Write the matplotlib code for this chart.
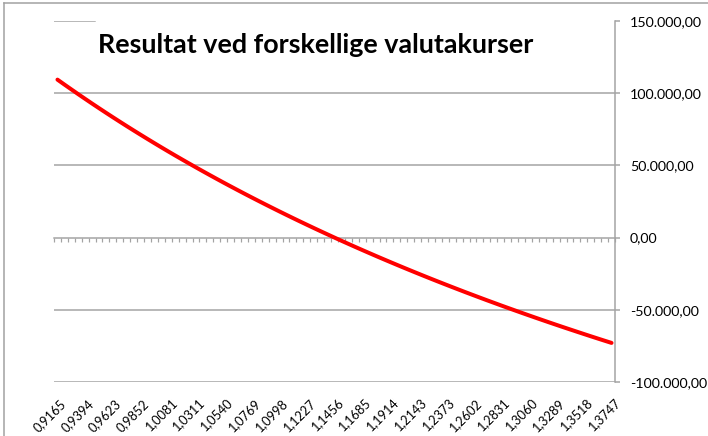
import matplotlib
matplotlib.use("Agg")
import matplotlib.pyplot as plt
from matplotlib.ticker import FuncFormatter
from matplotlib.lines import Line2D
import matplotlib.transforms as mtrans

plt.rcParams["font.family"] = ["Lato", "DejaVu Sans"]

# ---------------- data ----------------
title = "Resultat ved forskellige valutakurser"

rate_labels = ["0,9165", "0,9394", "0,9623", "0,9852", "1,0081", "1,0311", "1,0540",
               "1,0769", "1,0998", "1,1227", "1,1456", "1,1685", "1,1914", "1,2143",
               "1,2373", "1,2602", "1,2831", "1,3060", "1,3289", "1,3518", "1,3747"]

result_values = [109400, 106000, 102650, 99330, 96060, 92820, 89630, 86470, 83350, 80270,
                 77220, 74210, 71240, 68300, 65390, 62510, 59670, 56860, 54090, 51340,
                 48620, 45940, 43280, 40650, 38050, 35480, 32940, 30420, 27930, 25470,
                 23030, 20620, 18230, 15870, 13530, 11220, 8930, 6660, 4420, 2200,
                 0, -2180, -4330, -6470, -8580, -10670, -12750, -14800, -16830, -18840,
                 -20840, -22810, -24770, -26710, -28630, -30530, -32410, -34280, -36130, -37970,
                 -39780, -41580, -43370, -45130, -46890, -48620, -50340, -52050, -53740, -55420,
                 -57080, -58730, -60360, -61980, -63580, -65170, -66750, -68320, -69870, -71410,
                 -72930]

y_ticks = [-100000, -50000, 0, 50000, 100000, 150000]

# ---------------- layout ----------------
W, H = 708, 436
PX = 0.72  # points per pixel at 100 dpi
GRID = "#a3a3a3"
fig = plt.figure(figsize=(W / 100, H / 100), dpi=100)
fig.patch.set_facecolor("white")

L, R, T, B = 54, 615, 21, 382
ax = fig.add_axes([L / W, 1 - B / H, (R - L) / W, (B - T) / H])

n = len(result_values)
xs = list(range(n))
ax.plot(xs, result_values, color="#ff0000", lw=4 * PX,
        solid_capstyle="round", solid_joinstyle="round", zorder=5, clip_on=False)

ax.set_xlim(-0.5, n - 0.5)
ax.set_ylim(y_ticks[0], y_ticks[-1])

# gridlines (0 replaced by the category axis)
for v in y_ticks:
    if v == 0:
        continue
    if v == y_ticks[-1]:
        ax.axhline(v, xmin=0, xmax=(95 - L) / (R - L), color=GRID, lw=1.5 * PX, zorder=1)
    else:
        ax.axhline(v, color=GRID, lw=1.5 * PX, zorder=1)

# value axis on right
ax.yaxis.tick_right()
ax.set_yticks(y_ticks)


def dk_fmt(v, pos=None):
    s = f"{v:,.2f}"
    return s.replace(",", "X").replace(".", ",").replace("X", ".")


ax.yaxis.set_major_formatter(FuncFormatter(dk_fmt))
ax.tick_params(axis="y", direction="out", length=5 * PX, width=1.5 * PX, color=GRID,
               pad=10 * PX, labelsize=10.3, labelcolor="black")

for s in ["left", "top"]:
    ax.spines[s].set_visible(False)
ax.spines["right"].set_color(GRID)
ax.spines["right"].set_linewidth(1.5 * PX)
ax.spines["bottom"].set_position(("data", 0))
ax.spines["bottom"].set_color(GRID)
ax.spines["bottom"].set_linewidth(1.5 * PX)

# category axis ticks between categories
ax.set_xticks([i - 0.5 for i in range(n + 1)])
ax.tick_params(axis="x", direction="out", length=3.5 * PX, width=1.2 * PX, color=GRID,
               labelbottom=False)

# category labels at the bottom
step = (n - 1) // (len(rate_labels) - 1)
trans = mtrans.offset_copy(ax.get_xaxis_transform(), fig=fig, x=2, y=-15, units="dots")
for k, lab in enumerate(rate_labels):
    ax.text(k * step, 0, lab, transform=trans, rotation=45, rotation_mode="anchor",
            ha="right", va="top", fontsize=9.2, color="black")

# title
fig.text(316 / W, 1 - 45 / H, title, ha="center", va="center",
         fontsize=19.4, fontweight="bold", color="black")

# chart border (top & left visible)
fig.add_artist(Line2D([4 / W, 4 / W], [0, 1 - 3 / H], transform=fig.transFigure,
                      color="#a0a0a0", lw=1.5 * PX))
fig.add_artist(Line2D([4 / W, 1], [1 - 3 / H, 1 - 3 / H], transform=fig.transFigure,
                      color="#a0a0a0", lw=1.5 * PX))

fig.savefig("out.png", dpi=100)
